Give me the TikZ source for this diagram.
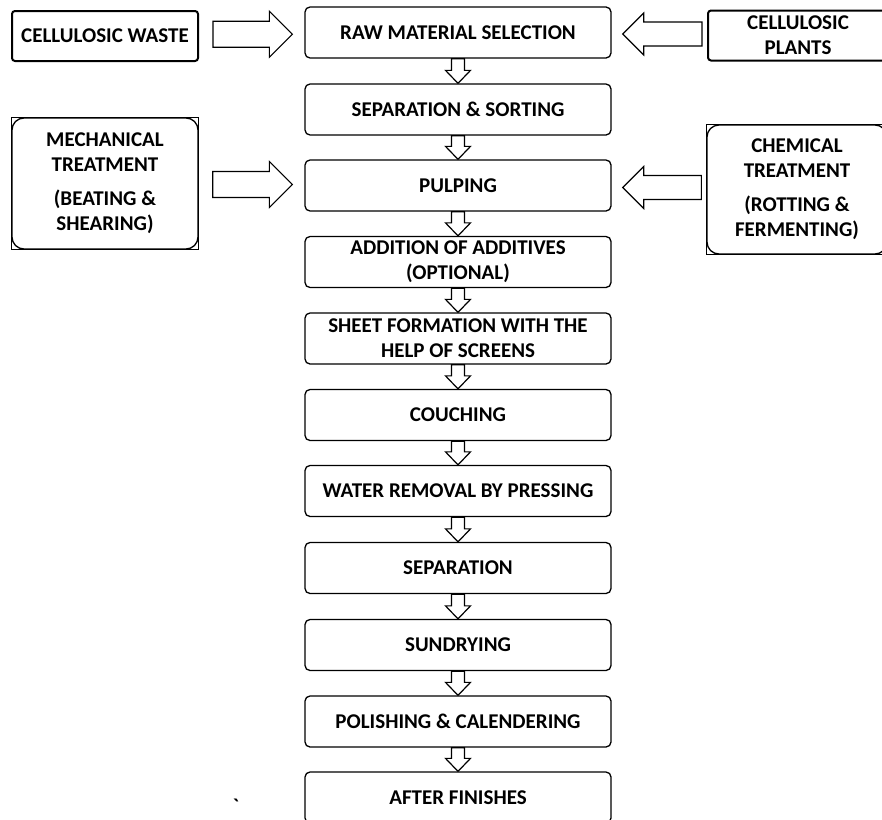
\documentclass[tikz,border=0pt]{standalone}
\usepackage{fontspec}
\setmainfont{Carlito}
\usetikzlibrary{calc}
\newcommand\dnarrow[2]{%
  \draw[blockarrow] let \p1=(#1.south), \p2=(#2.north) in
    (\x1-6.5pt,\y1) -- (\x1+6.5pt,\y1) -- (\x1+6.5pt,\y2+13pt) -- (\x1+12.5pt,\y2+13pt)
    -- (\x1,\y2) -- (\x1-12.5pt,\y2+13pt) -- (\x1-6.5pt,\y2+13pt) -- cycle;}
\newcommand\rtarrow[2]{%
  \draw[blockarrow] let \p1=(#1.east), \p2=(#2.west), \n1={(\y1+\y2)/2} in
    (\x1+14pt,\n1+13pt) -- (\x2-35pt,\n1+13pt) -- (\x2-35pt,\n1+23pt) -- (\x2-12pt,\n1)
    -- (\x2-35pt,\n1-23pt) -- (\x2-35pt,\n1-13pt) -- (\x1+14pt,\n1-13pt) -- cycle;}
\newcommand\lfarrow[2]{%
  \draw[blockarrow] let \p1=(#1.west), \p2=(#2.east), \n1={(\y1+\y2)/2} in
    (\x1-5pt,\n1+12pt) -- (\x2+32pt,\n1+12pt) -- (\x2+32pt,\n1+21pt) -- (\x2+11pt,\n1)
    -- (\x2+32pt,\n1-21pt) -- (\x2+32pt,\n1-12pt) -- (\x1-5pt,\n1-12pt) -- cycle;}
\begin{document}
\begin{tikzpicture}[x=1pt,y=1pt,
  every node/.style={font=\fontsize{21}{25}\selectfont\bfseries, align=center, inner sep=2pt},
  stage/.style={draw, line width=1.3pt, rounded corners=5pt, minimum width=306pt, minimum height=51pt},
  srcbox/.style={draw, line width=2pt, rounded corners=3pt, minimum height=50pt},
  treat/.style={draw, line width=1.3pt, rounded corners=12pt},
  frame/.style={draw, line width=0.6pt},
  blockarrow/.style={draw, line width=1.2pt, fill=white, line join=miter}
]
\useasboundingbox (0,0) rectangle (882,-819);

\node[stage] (s1)  at (458,-32.5)  {RAW MATERIAL SELECTION};
\node[stage] (s2)  at (458,-109.5) {SEPARATION \& SORTING};
\node[stage] (s3)  at (458,-185.5) {PULPING};
\node[stage] (s4)  at (458,-262)   {ADDITION OF ADDITIVES\\(OPTIONAL)};
\node[stage] (s5)  at (458,-338.5) {SHEET FORMATION WITH THE\\HELP OF SCREENS};
\node[stage] (s6)  at (458,-415)   {COUCHING};
\node[stage] (s7)  at (458,-491)   {WATER REMOVAL BY PRESSING};
\node[stage] (s8)  at (458,-568)   {SEPARATION};
\node[stage] (s9)  at (458,-645)   {SUNDRYING};
\node[stage] (s10) at (458,-721.5) {POLISHING \& CALENDERING};
\node[stage] (s11) at (458,-797.5) {AFTER FINISHES};

\node[srcbox, minimum width=186pt] (waste)  at (105,-36)   {CELLULOSIC WASTE};
\node[srcbox, minimum width=180pt] (plants) at (798,-35.5) {CELLULOSIC\\PLANTS};

\node[treat, minimum width=186pt, minimum height=131pt] (mech) at (105,-183.5)
  {MECHANICAL\\TREATMENT\\[9pt](BEATING \&\\SHEARING)};
\draw[frame] (mech.south west) rectangle (mech.north east);
\node[treat, minimum width=180pt, minimum height=129pt] (chem) at (797,-189.5)
  {CHEMICAL\\TREATMENT\\[9pt](ROTTING \&\\FERMENTING)};
\draw[frame] (chem.south west) rectangle (chem.north east);

\dnarrow{s1}{s2}
\dnarrow{s2}{s3}
\dnarrow{s3}{s4}
\dnarrow{s4}{s5}
\dnarrow{s5}{s6}
\dnarrow{s6}{s7}
\dnarrow{s7}{s8}
\dnarrow{s8}{s9}
\dnarrow{s9}{s10}
\dnarrow{s10}{s11}

\rtarrow{waste}{s1}
\rtarrow{mech}{s3}
\lfarrow{plants}{s1}
\lfarrow{chem}{s3}

\node (tick) at (236,-806) {\textasciigrave};
\end{tikzpicture}
\end{document}
